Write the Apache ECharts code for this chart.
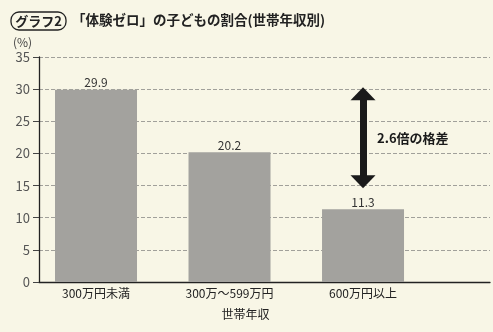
<!DOCTYPE html>
<html><head><meta charset="utf-8">
<script src="https://cdn.jsdelivr.net/npm/echarts@6/dist/echarts.min.js"></script>
<style>html,body{margin:0;padding:0;background:#f8f6e6;}#c{width:493px;height:332px;}</style>
</head><body><div id="c"></div>
<script>
const categories = ['300万円未満', '300万～599万円', '600万円以上'];
const values = [29.9, 20.2, 11.3];
const categoryIndex = [0, 1, 2];
const yMin = 0, yMax = 35, yStep = 5;
const gapArrowFrom = 29.3, gapArrowTo = 15.6, gapArrowAt = 2;
const gapLabel = '2.6倍の格差';
const gapLabelAt = 22.4;
const titleTag = 'グラフ2';
const titleText = '「体験ゼロ」の子どもの割合(世帯年収別)';
const yUnit = '(%)';
const xName = '世帯年収';

const FONT = '"Noto Sans CJK JP", "Noto Sans", sans-serif';
const chart = echarts.init(document.getElementById('c'), null, {renderer: 'canvas'});
chart.setOption({
  backgroundColor: '#f8f6e6',
  animation: false,
  textStyle: {fontFamily: FONT},
  grid: {left: 39, right: 3, top: 57, bottom: 50},
  graphic: [
    {type: 'rect', x: 11, y: 12, shape: {x: 0, y: 0, width: 55, height: 18, r: 8},
     style: {fill: 'none', stroke: '#222', lineWidth: 1.3},
     textContent: {style: {text: titleTag, font: 'bold 13px ' + FONT, fill: '#222'}},
     textConfig: {position: 'inside'}},
    {type: 'text', x: 72, y: 13, style: {text: titleText, font: 'bold 13.5px ' + FONT, fill: '#222'}},
    {type: 'text', x: 13, y: 36, style: {text: yUnit, font: '12px ' + FONT, fill: '#444'}}
  ],
  xAxis: {
    type: 'value', min: -0.427, max: 2.951,
    splitLine: {show: false},
    axisLine: {show: true, onZero: true, lineStyle: {color: '#222', width: 1.3}},
    axisTick: {show: false},
    axisLabel: {
      customValues: categoryIndex,
      formatter: v => categories[Math.round(v)] || '',
      color: '#222', fontSize: 12, margin: 5, fontFamily: FONT
    },
    name: xName, nameLocation: 'middle', nameGap: 26,
    nameTextStyle: {color: '#222', fontSize: 12, fontFamily: FONT, padding: [0, 0, 0, -38]}
  },
  yAxis: {
    type: 'value', min: yMin, max: yMax, interval: yStep,
    axisLine: {show: true, onZero: false, lineStyle: {color: '#222', width: 1.3}},
    axisTick: {show: true, length: 6, lineStyle: {color: '#444'}},
    axisLabel: {color: '#555', fontSize: 13, margin: 9, fontFamily: FONT},
    splitLine: {show: true, lineStyle: {color: '#8a8a86', type: [4, 2], width: 0.8}}
  },
  series: [{
    type: 'bar',
    data: values.map((v, i) => [categoryIndex[i], v]),
    barWidth: 82,
    itemStyle: {color: '#a3a29e'},
    label: {show: true, position: 'top', color: '#333', fontSize: 12, distance: 1, fontFamily: FONT},
    markLine: {
      silent: true,
      symbol: ['triangle', 'triangle'],
      symbolSize: [25, 13],
      label: {show: false},
      lineStyle: {color: '#1a1a1a', width: 7, type: 'solid'},
      data: [[{coord: [gapArrowAt, gapArrowFrom]}, {coord: [gapArrowAt, gapArrowTo]}]]
    },
    markPoint: {
      silent: true,
      symbol: 'circle', symbolSize: 0,
      data: [{coord: [gapArrowAt, gapLabelAt]}],
      label: {show: true, formatter: gapLabel, position: 'right', distance: 14,
        color: '#1a1a1a', fontSize: 13, fontWeight: 'bold', fontFamily: FONT}
    }
  }]
});
</script></body></html>
